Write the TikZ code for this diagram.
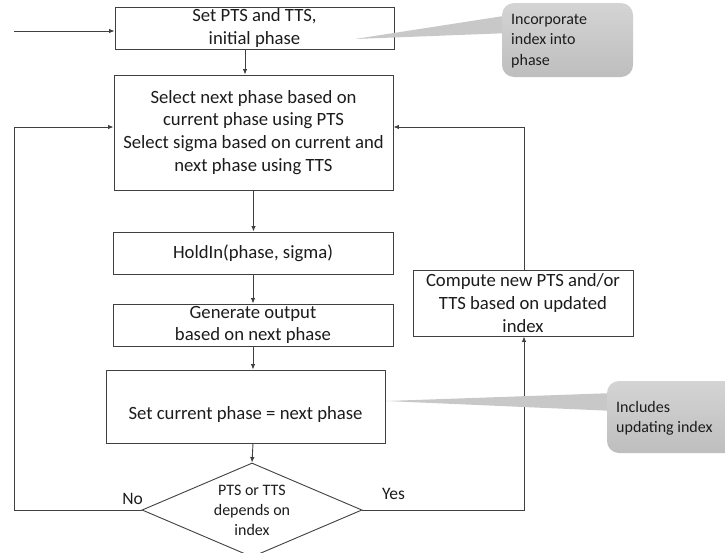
\documentclass[tikz,border=0pt]{standalone}
\usepackage{fontspec}
\setmainfont{Carlito}
\usetikzlibrary{arrows.meta,shapes.geometric,calc}
\definecolor{linec}{RGB}{64,64,64}
\definecolor{txtc}{RGB}{28,28,28}
\definecolor{calltop}{RGB}{212,212,212}
\definecolor{callbot}{RGB}{190,190,190}
\definecolor{callmid}{RGB}{200,200,200}

\begin{document}
\begin{tikzpicture}[x=1pt,y=-1pt,
  box/.style={draw=linec, line width=0.9pt, fill=white, inner sep=0pt,
    align=center, text=txtc, font=\fontsize{18.7}{22.8}\selectfont},
  decision/.style={box, shape=diamond, aspect=2.34,
    font=\fontsize{16}{20}\selectfont},
  arr/.style={draw=linec, line width=0.9pt, -{Latex[length=5.5pt,width=4.5pt]}},
  calltxt/.style={inner sep=0pt, align=left, text=txtc,
    font=\fontsize{16}{20.3}\selectfont},
  lbl/.style={inner sep=0pt, text=txtc, font=\fontsize{17.5}{20}\selectfont},
]
\useasboundingbox (0,0) rectangle (725,552);

% process boxes
\node[box, minimum width=279pt, minimum height=42pt] (b1) at (254.5,28)
  {Set PTS and TTS,\\initial phase};
\node[box, minimum width=279pt, minimum height=115pt] (b2) at (253.5,132.5)
  {Select next phase based on\\current phase using PTS\\Select sigma based on current and\\next phase using TTS};
\node[box, minimum width=280pt, minimum height=42pt] (b3) at (253,253)
  {HoldIn(phase, sigma)};
\node[box, minimum width=280pt, minimum height=42pt] (b4) at (253,325)
  {Generate output\\based on next phase};
\node[box, minimum width=279pt, minimum height=73pt, text depth=0pt] (b5) at (245.5,406.5)
  {\raisebox{-12pt}{Set current phase = next phase}};
\node[box, minimum width=220pt, minimum height=66pt] (cp) at (523,303)
  {Compute new PTS and/or\\TTS based on updated\\index};
\node[decision, minimum width=220pt, minimum height=94pt] (dec) at (252,510)
  {PTS or TTS\\depends on\\index};

% branch labels
\node[lbl, anchor=east] (no) at (143,499) {No};
\node[lbl, anchor=west] (yes) at (382,494) {Yes};

% loop corners and entry point
\coordinate (start) at (14,31);
\coordinate (lft) at (14,510);

% connectors
\draw[arr] (start) -- (start -| b1.west);
\draw[arr] ([xshift=-9.5pt]b1.south) -- ([xshift=-9.5pt]b1.south |- b2.north);
\draw[arr] (b2.south) -- (b2.south |- b3.north);
\draw[arr] (b3.south) -- (b4.north);
\draw[arr] (b4.south) -- (b4.south |- b5.north);
\draw[arr] (b4.south |- b5.south) -- (dec.north);
\draw[arr] (dec.west) -- (lft) |- ([yshift=5.5pt]b2.west);
\draw[arr] (dec.east) -| ([xshift=1pt]cp.south);
\draw[arr] ([xshift=1pt]cp.north) |- ([yshift=5.5pt]b2.east);

% callout: initial phase note
\fill[callmid] (355,39) -- (510,15) -- (510,33) -- cycle;
\shade[top color=calltop, bottom color=callbot, rounded corners=12pt]
  (502,3) rectangle (633,77);
\node[calltxt, anchor=west] (note1) at (511,41) {Incorporate\\index into\\phase};

% callout: index update note
\fill[callmid] (386,401) -- (615,393) -- (615,411) -- cycle;
\shade[top color=calltop, bottom color=callbot, rounded corners=12pt]
  (607,381) rectangle (745,453);
\node[calltxt, anchor=west] (note2) at (616,418) {Includes\\updating index};
\end{tikzpicture}
\end{document}
